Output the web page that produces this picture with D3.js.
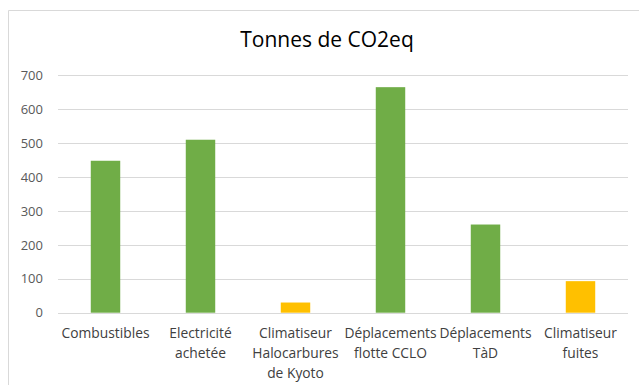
<!DOCTYPE html>
<html><head><meta charset="utf-8">
<script src="https://cdn.jsdelivr.net/npm/d3@7"></script>
<style>body{margin:0;background:#fff}svg{display:block}</style>
</head><body>
<svg id="c" width="639" height="385"></svg>
<script>
const categories = [
  ["Combustibles"],
  ["Electricité","achetée"],
  ["Climatiseur","Halocarbures","de Kyoto"],
  ["Déplacements","flotte CCLO"],
  ["Déplacements","TàD"],
  ["Climatiseur","fuites"]
];
const values = [448, 510, 30, 665, 260, 93];
const barColors = ["#70ad47","#70ad47","#ffc000","#70ad47","#70ad47","#ffc000"];
const yTicks = [0,100,200,300,400,500,600,700];
const title = "Tonnes de CO2eq";

(function(){
const svg = d3.select("#c");
const font = "'Open Sans', sans-serif";
// chart frame (top and left edges visible)
svg.append("line").attr("x1",8.5).attr("x2",639).attr("y1",10.5).attr("y2",10.5).attr("stroke","#d9d9d9");
svg.append("line").attr("x1",8.5).attr("x2",8.5).attr("y1",10.5).attr("y2",385).attr("stroke","#d9d9d9");

const mLeft = 58, mRight = 628, mTop = 75.3, mBottom = 312.7;
const keys = categories.map((c,i)=>i);
const x = d3.scaleBand().domain(keys).range([mLeft,mRight]).paddingInner(0.69).paddingOuter(0.345);
const y = d3.scaleLinear().domain([0,700]).range([mBottom,mTop]);

// gridlines
svg.append("g").selectAll("line").data(yTicks).join("line")
  .attr("x1",mLeft).attr("x2",mRight)
  .attr("y1",d=>Math.round(y(d))+0.5).attr("y2",d=>Math.round(y(d))+0.5)
  .attr("stroke","#d9d9d9").attr("stroke-width",1);

// y axis labels
const yAxis = d3.axisLeft(y).tickValues(yTicks).tickSize(0).tickPadding(0);
const ga = svg.append("g").attr("transform",`translate(43,0)`).call(yAxis);
ga.select(".domain").remove();
ga.selectAll("text").attr("font-family",font).attr("font-size",13).attr("fill","#595959");

// bars
svg.append("g").selectAll("rect").data(values).join("rect")
  .attr("x",(d,i)=>x(i)).attr("width",x.bandwidth())
  .attr("y",d=>y(d)).attr("height",d=>y(0)-y(d))
  .attr("fill",(d,i)=>barColors[i]);

// category labels
const xAxis = d3.axisBottom(x).tickSize(0).tickFormat("");
const gx = svg.append("g").attr("transform",`translate(0,${mBottom})`).call(xAxis);
gx.select(".domain").remove();
gx.selectAll(".tick").each(function(i){
  const t = d3.select(this).append("text").attr("font-family",font).attr("font-size",13.8)
    .attr("fill","#404040").attr("text-anchor","middle");
  categories[i].forEach((line,k)=>{
    t.append("tspan").attr("x",0).attr("y",25.5 + k*20).text(line);
  });
});

// title
svg.append("text").attr("x",327).attr("y",47).attr("text-anchor","middle")
  .attr("font-family",font).attr("font-size",21).attr("fill","#000").text(title);
})();
</script>
</body></html>
